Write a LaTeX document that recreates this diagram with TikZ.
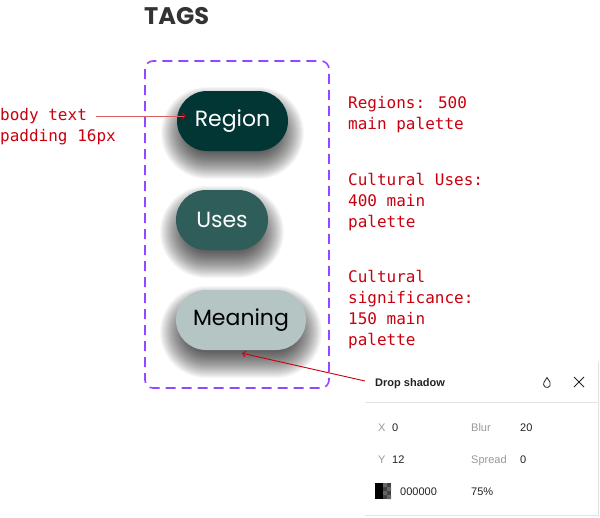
\documentclass[tikz,border=0pt]{standalone}
\usepackage{fontspec}
\setmainfont{Liberation Sans}
\newfontfamily\popf{Poppins}
\newfontfamily\monof{DejaVu Sans Mono}
\usetikzlibrary{arrows.meta}
\definecolor{regionc}{HTML}{013634}
\definecolor{usesc}{HTML}{2F5D5A}
\definecolor{meanc}{HTML}{B4C5C4}
\definecolor{purp}{HTML}{9747FF}
\definecolor{annot}{HTML}{C8000F}
\definecolor{annotl}{HTML}{D96060}
\definecolor{tagc}{HTML}{333333}
\definecolor{lblc}{HTML}{999999}
\definecolor{valc}{HTML}{222222}
\definecolor{sepc}{HTML}{E3E3E3}
\newcommand\pillshadow[3]{%
  \foreach \e in {16,15,...,-14}{%
    \pgfmathsetmacro\rr{30+\e}%
    \fill[black,opacity=0.033,rounded corners=\rr pt]
      ({#1-#3/2-\e},{#2+12-30-\e}) rectangle ({#1+#3/2+\e},{#2+12+30+\e});
  }}
\begin{document}
\begin{tikzpicture}[x=1pt,y=-1pt,
  pill/.style={rounded corners=30pt, minimum height=60pt, inner sep=0pt,
    font=\popf\fontsize{22}{26}\selectfont},
  annotext/.style={anchor=base west, align=left, inner sep=0pt, text=annot,
    font=\monof\fontsize{16}{20.7}\selectfont},
  lbl/.style={anchor=base west, inner sep=0pt, text=lblc, font=\fontsize{11}{13}\selectfont},
  val/.style={anchor=base west, inner sep=0pt, text=valc, font=\fontsize{11}{13}\selectfont},
  sep/.style={draw=sepc, line width=0.8pt}
]
\useasboundingbox (0,0) rectangle (600,517);
\fill[white] (0,0) rectangle (600,517);

% title
\node[anchor=base west, inner sep=0pt, text=tagc, font=\popf\bfseries\fontsize{24}{28}\selectfont] (tags) at (144,24) {TAGS};

% shadows
\pillshadow{232.5}{121}{111}
\pillshadow{222}{220}{92}
\pillshadow{241}{320}{130}

% pills
\node[pill, fill=regionc, text=white, minimum width=111pt] (region) at (232.5,121) {Region};
\node[pill, fill=usesc, text=white, minimum width=92pt] (uses) at (222,220) {Uses};
\node[pill, fill=meanc, text=black, minimum width=130pt] (meaning) at (241,320) {Meaning};

% dashed frame
\draw[purp, line width=1.6pt, dash pattern=on 10pt off 6pt, rounded corners=8pt] (145,61) rectangle (329,388);

% annotations (anchor base = baseline of last line)
\node[annotext] (bodytext) at (0,141) {body text\\padding 16px};
\node[annotext] (regtext) at (348,129) {Regions: 500\\main palette};
\node[annotext] (usetext) at (348,227) {Cultural Uses:\\400 main\\palette};
\node[annotext] (meantext) at (348,345) {Cultural\\significance:\\150 main\\palette};

\coordinate (bt) at (96,116);
\draw[annotl, line width=1pt, -{Straight Barb[length=3pt,width=6pt,color=annot]}] (bt) -- ([xshift=9pt,yshift=5pt]region.west);

% drop shadow panel
\draw[sep] (598.5,362) -- (598.5,517);
\draw[sep] (365,402) -- (598,402);
\draw[sep] (365,515) -- (598,515);

\node[anchor=base west, inner sep=0pt, text=valc, font=\bfseries\fontsize{11}{13}\selectfont] (dstitle) at (375,386) {Drop shadow};
\draw[valc, line width=0.8pt] (547,377.5) -- (543.97,382.25) arc[start angle=150,end angle=390,radius=3.5pt] -- cycle;
\draw[valc, line width=0.9pt] (574,377) -- (584,387) (574,387) -- (584,377);

\node[lbl] (xl) at (378,431) {X};
\node[val] (xv) at (392,431) {0};
\node[lbl] (bl) at (471,431) {Blur};
\node[val] (bv) at (520,431) {20};
\node[lbl] (yl) at (378,463) {Y};
\node[val] (yv) at (392,463) {12};
\node[lbl] (sl) at (471,463) {Spread};
\node[val] (sv) at (520,463) {0};
\fill[black] (375,483) rectangle (383,499);
\fill[black!75] (383,483) rectangle (391,499);
\fill[black!60] (383,483) rectangle (387,487) (387,487) rectangle (391,491) (383,491) rectangle (387,495) (387,495) rectangle (391,499);
\node[val] (hex) at (400,495) {000000};
\node[val] (op) at (471,495) {75\%};

\coordinate (ps) at (365,381);
\draw[annot, line width=0.9pt, -{Straight Barb[length=3pt,width=6pt]}] (ps) -- ([xshift=1pt,yshift=-3pt]meaning.south);
\end{tikzpicture}
\end{document}
